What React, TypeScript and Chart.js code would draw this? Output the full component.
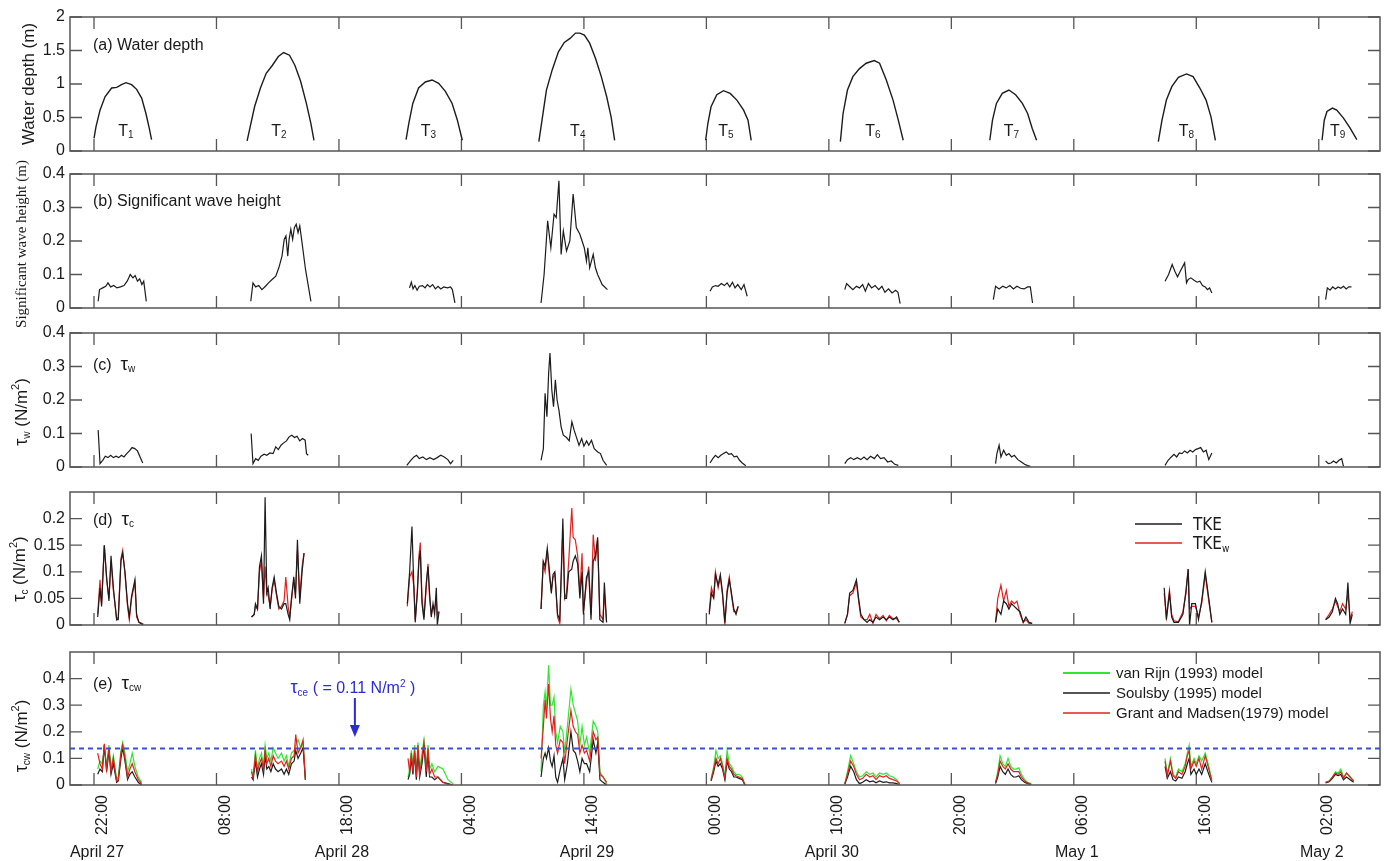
import React, { useEffect, useRef } from "react";
import { Chart, registerables } from "chart.js";
Chart.register(...registerables);

// ---------------- axis definitions ----------------
const X_MIN = 20.04; // hours since April 27 00:00
const X_MAX = 127.0;
const TIME_TICK_HOURS = [22, 32, 42, 52, 62, 72, 82, 92, 102, 112, 122];
const TIME_TICK_LABELS = ["22:00", "08:00", "18:00", "04:00", "14:00", "00:00", "10:00", "20:00", "06:00", "16:00", "02:00"];
const DATE_TICK_HOURS = [22, 42, 62, 82, 102, 122];
const DATE_TICK_LABELS = ["April 27", "April 28", "April 29", "April 30", "May 1", "May 2"];

const TIDE_NAMES = ["1", "2", "3", "4", "5", "6", "7", "8", "9"];
const TIDE_LABEL_HOURS = [24.6, 37.1, 49.3, 61.5, 73.6, 85.6, 96.9, 111.2, 123.55];
const TIDE_LABEL_DEPTH = 0.31;

const TAU_CE_LINE = 0.137;
const TAU_CE_NOTE_HOUR = 43.3;

// ---------------- (a) water depth ----------------
const depthHours = [
  [22.0, 22.16, 22.49, 22.9, 23.44, 23.85, 24.25, 24.61, 25.07, 25.48, 25.89, 26.24, 26.51, 26.7],
  [34.5, 34.75, 35.11, 35.59, 36.06, 36.57, 37.05, 37.48, 37.96, 38.4, 38.87, 39.34, 39.71, 39.96],
  [47.48, 47.7, 48.03, 48.5, 49.05, 49.6, 50.14, 50.69, 51.24, 51.67, 52.07],
  [58.32, 58.58, 58.94, 59.41, 59.92, 60.4, 60.87, 61.31, 61.67, 62.04, 62.47, 62.95, 63.42, 63.86, 64.22, 64.51],
  [71.94, 72.12, 72.38, 72.85, 73.4, 73.94, 74.49, 75.04, 75.4, 75.66],
  [82.94, 83.16, 83.52, 83.96, 84.5, 85.05, 85.71, 86.14, 86.69, 87.24, 87.67, 88.07],
  [95.14, 95.36, 95.68, 96.16, 96.7, 97.25, 97.8, 98.23, 98.6, 98.96],
  [108.9, 109.2, 109.56, 110.0, 110.54, 111.2, 111.74, 112.29, 112.8, 113.2, 113.56],
  [122.27, 122.45, 122.67, 123.11, 123.47, 124.02, 124.56, 125.11],
];
const depthValues = [
  [0.19, 0.36, 0.61, 0.81, 0.94, 0.95, 0.99, 1.02, 0.99, 0.92, 0.79, 0.56, 0.34, 0.17],
  [0.15, 0.36, 0.66, 0.94, 1.16, 1.28, 1.41, 1.47, 1.43, 1.28, 1.04, 0.71, 0.41, 0.16],
  [0.17, 0.41, 0.71, 0.94, 1.03, 1.06, 1.01, 0.89, 0.71, 0.46, 0.16],
  [0.14, 0.46, 0.91, 1.21, 1.48, 1.62, 1.68, 1.76, 1.76, 1.73, 1.61, 1.38, 1.11, 0.81, 0.51, 0.16],
  [0.16, 0.41, 0.66, 0.84, 0.9, 0.86, 0.76, 0.61, 0.46, 0.16],
  [0.14, 0.56, 0.91, 1.11, 1.23, 1.31, 1.35, 1.31, 1.06, 0.76, 0.46, 0.16],
  [0.16, 0.46, 0.71, 0.86, 0.91, 0.84, 0.71, 0.56, 0.34, 0.16],
  [0.14, 0.46, 0.76, 0.96, 1.1, 1.15, 1.11, 0.94, 0.76, 0.51, 0.16],
  [0.16, 0.46, 0.59, 0.64, 0.61, 0.49, 0.34, 0.17],
];

// ---------------- (b) significant wave height ----------------
const waveHours = [
  [22.34, 22.45, 22.71, 22.96, 23.14, 23.36, 23.62, 23.87, 24.16, 24.45, 24.71, 24.96, 25.18, 25.36, 25.55, 25.73, 25.91, 26.06, 26.27],
  [34.8, 34.98, 35.2, 35.45, 35.71, 36.0, 36.25, 36.54, 36.84, 37.09, 37.35, 37.53, 37.67, 37.82, 37.93, 38.07, 38.22, 38.36, 38.51, 38.66, 38.8, 38.95, 39.27, 39.71],
  [47.76, 47.91, 48.05, 48.2, 48.38, 48.56, 48.82, 49.03, 49.22, 49.43, 49.65, 49.87, 50.09, 50.31, 50.56, 50.85, 51.11, 51.26, 51.47],
  [58.5, 58.75, 59.04, 59.3, 59.56, 59.74, 59.96, 60.14, 60.32, 60.58, 60.85, 61.12, 61.38, 61.67, 62.03, 62.21, 62.32, 62.47, 62.76, 62.94, 63.12, 63.49, 63.92],
  [72.3, 72.49, 72.74, 72.96, 73.22, 73.47, 73.69, 73.91, 74.13, 74.34, 74.56, 74.85, 75.07, 75.33],
  [83.3, 83.45, 83.67, 83.96, 84.25, 84.5, 84.76, 84.98, 85.23, 85.49, 85.78, 86.07, 86.33, 86.58, 86.87, 87.16, 87.45, 87.64, 87.82],
  [95.43, 95.61, 95.9, 96.19, 96.48, 96.78, 97.07, 97.36, 97.65, 97.94, 98.23, 98.45, 98.63],
  [109.45, 109.74, 110.03, 110.25, 110.47, 110.69, 110.91, 111.05, 111.2, 111.34, 111.56, 111.82, 112.07, 112.29, 112.51, 112.73, 112.91, 113.09, 113.27],
  [122.56, 122.7, 122.92, 123.14, 123.36, 123.58, 123.8, 124.02, 124.24, 124.45, 124.67],
];
const waveHeights = [
  [0.02, 0.055, 0.06, 0.065, 0.075, 0.063, 0.067, 0.06, 0.063, 0.067, 0.08, 0.1, 0.09, 0.097, 0.08, 0.087, 0.07, 0.08, 0.02],
  [0.02, 0.075, 0.063, 0.067, 0.055, 0.065, 0.075, 0.085, 0.095, 0.12, 0.155, 0.205, 0.215, 0.155, 0.205, 0.235, 0.205, 0.24, 0.25, 0.225, 0.245, 0.205, 0.115, 0.02],
  [0.06, 0.077, 0.057, 0.067, 0.053, 0.065, 0.067, 0.06, 0.07, 0.063, 0.07, 0.057, 0.065, 0.057, 0.063, 0.06, 0.063, 0.055, 0.015],
  [0.015, 0.1, 0.26, 0.18, 0.28, 0.27, 0.38, 0.16, 0.23, 0.17, 0.2, 0.34, 0.24, 0.22, 0.18, 0.14, 0.18, 0.12, 0.16, 0.12, 0.1, 0.07, 0.055],
  [0.05, 0.063, 0.067, 0.065, 0.073, 0.067, 0.075, 0.063, 0.077, 0.06, 0.07, 0.055, 0.07, 0.035],
  [0.055, 0.073, 0.065, 0.055, 0.065, 0.06, 0.07, 0.05, 0.073, 0.06, 0.067, 0.055, 0.065, 0.047, 0.057, 0.045, 0.053, 0.047, 0.013],
  [0.025, 0.065, 0.057, 0.065, 0.06, 0.067, 0.057, 0.065, 0.059, 0.057, 0.063, 0.063, 0.015],
  [0.08, 0.1, 0.13, 0.11, 0.093, 0.11, 0.125, 0.135, 0.075, 0.085, 0.09, 0.083, 0.077, 0.08, 0.067, 0.063, 0.055, 0.06, 0.045],
  [0.025, 0.06, 0.053, 0.063, 0.057, 0.063, 0.059, 0.065, 0.057, 0.063, 0.063],
];

// ---------------- (c) wave shear stress ----------------
const tauWHours = [
  [22.34, 22.49, 22.71, 22.92, 23.14, 23.36, 23.58, 23.8, 24.02, 24.24, 24.45, 24.67, 24.89, 25.11, 25.33, 25.55, 25.76, 25.98],
  [34.83, 34.98, 35.2, 35.41, 35.63, 35.89, 36.11, 36.36, 36.62, 36.84, 37.05, 37.27, 37.49, 37.71, 37.93, 38.15, 38.37, 38.58, 38.8, 39.02, 39.24, 39.35, 39.49],
  [47.54, 47.83, 48.12, 48.34, 48.56, 48.85, 49.14, 49.43, 49.73, 50.02, 50.31, 50.6, 50.89, 51.11, 51.33],
  [58.5, 58.69, 58.83, 58.98, 59.12, 59.23, 59.38, 59.52, 59.67, 59.81, 59.96, 60.14, 60.32, 60.58, 60.8, 61.02, 61.2, 61.38, 61.6, 61.82, 62.0, 62.22, 62.4, 62.62, 62.84, 63.13, 63.35, 63.56, 63.86],
  [72.3, 72.52, 72.74, 72.96, 73.18, 73.4, 73.62, 73.83, 74.05, 74.27, 74.49, 74.71, 74.93, 75.22],
  [83.3, 83.52, 83.78, 84.03, 84.32, 84.61, 84.87, 85.12, 85.41, 85.71, 85.96, 86.22, 86.51, 86.8, 87.09, 87.38, 87.67],
  [95.61, 95.72, 95.9, 96.05, 96.27, 96.49, 96.7, 96.92, 97.14, 97.43, 97.72, 97.98, 98.23, 98.45],
  [109.45, 109.7, 109.96, 110.18, 110.4, 110.62, 110.83, 111.05, 111.27, 111.49, 111.71, 111.93, 112.15, 112.36, 112.58, 112.8, 113.02, 113.27],
  [122.56, 122.78, 123.0, 123.21, 123.43, 123.65, 123.87, 124.02],
];
const tauWValues = [
  [0.11, 0.01, 0.02, 0.032, 0.028, 0.035, 0.028, 0.032, 0.028, 0.035, 0.03, 0.04, 0.048, 0.058, 0.055, 0.048, 0.03, 0.012],
  [0.1, 0.01, 0.025, 0.02, 0.032, 0.038, 0.035, 0.042, 0.04, 0.06, 0.052, 0.065, 0.072, 0.078, 0.09, 0.095, 0.088, 0.092, 0.078, 0.085, 0.08, 0.04, 0.035],
  [0.005, 0.018, 0.03, 0.035, 0.025, 0.03, 0.022, 0.028, 0.022, 0.028, 0.035, 0.03, 0.022, 0.01, 0.02],
  [0.02, 0.055, 0.22, 0.15, 0.28, 0.34, 0.23, 0.18, 0.26, 0.2, 0.17, 0.12, 0.095, 0.088, 0.078, 0.135, 0.11, 0.09, 0.065, 0.085, 0.062, 0.078, 0.065, 0.08, 0.055, 0.045, 0.04, 0.02, 0.005],
  [0.012, 0.025, 0.035, 0.028, 0.035, 0.04, 0.045, 0.038, 0.04, 0.03, 0.032, 0.02, 0.012, 0.004],
  [0.01, 0.022, 0.028, 0.022, 0.028, 0.022, 0.03, 0.022, 0.032, 0.025, 0.037, 0.025, 0.028, 0.015, 0.018, 0.008, 0.005],
  [0.01, 0.04, 0.065, 0.03, 0.05, 0.035, 0.04, 0.03, 0.035, 0.022, 0.015, 0.008, 0.004, 0.002],
  [0.005, 0.02, 0.03, 0.038, 0.03, 0.042, 0.04, 0.048, 0.042, 0.05, 0.045, 0.052, 0.055, 0.058, 0.045, 0.05, 0.022, 0.042],
  [0.018, 0.01, 0.012, 0.018, 0.012, 0.02, 0.025, 0.002],
];

// ---------------- (d) current shear stress ----------------
const tauCHours = [
  [22.3, 22.49, 22.62, 22.84, 23.03, 23.22, 23.39, 23.58, 23.85, 23.98, 24.2, 24.34, 24.53, 24.74, 24.88, 25.07, 25.34, 25.48, 25.67, 26.02],
  [34.86, 35.08, 35.18, 35.35, 35.51, 35.67, 35.84, 35.97, 36.11, 36.22, 36.38, 36.54, 36.71, 36.9, 37.09, 37.31, 37.52, 37.66, 37.85, 37.98, 38.12, 38.31, 38.45, 38.61, 38.8, 38.99, 39.15],
  [47.58, 47.77, 47.96, 48.13, 48.23, 48.4, 48.53, 48.64, 48.78, 48.94, 49.13, 49.27, 49.4, 49.54, 49.68, 49.81, 49.95, 50.03, 50.17],
  [58.5, 58.68, 58.83, 59.01, 59.19, 59.34, 59.48, 59.63, 59.85, 60.03, 60.28, 60.43, 60.58, 60.76, 61.01, 61.12, 61.3, 61.49, 61.67, 61.85, 61.96, 62.21, 62.39, 62.58, 62.76, 62.94, 63.12, 63.3, 63.56, 63.67, 63.85],
  [72.23, 72.41, 72.6, 72.74, 72.96, 73.14, 73.32, 73.51, 73.69, 73.87, 74.05, 74.24, 74.42, 74.6],
  [83.3, 83.52, 83.7, 83.96, 84.25, 84.43, 84.61, 84.87, 85.12, 85.34, 85.6, 85.85, 86.14, 86.43, 86.69, 86.94, 87.24, 87.53, 87.75],
  [95.61, 95.79, 96.05, 96.27, 96.49, 96.7, 96.92, 97.14, 97.36, 97.61, 97.87, 98.09, 98.34, 98.6],
  [109.38, 109.56, 109.81, 109.99, 110.18, 110.54, 110.91, 111.16, 111.34, 111.45, 111.63, 111.93, 112.18, 112.44, 112.73, 113.02, 113.27],
  [122.56, 122.85, 123.11, 123.36, 123.54, 123.72, 123.94, 124.2, 124.38, 124.56, 124.74],
];
const tauCTke = [
  [0.015, 0.07, 0.035, 0.15, 0.09, 0.045, 0.13, 0.07, 0.01, 0.01, 0.12, 0.135, 0.1, 0.04, 0.015, 0.055, 0.085, 0.02, 0.005, 0.0],
  [0.015, 0.02, 0.04, 0.03, 0.11, 0.13, 0.04, 0.24, 0.06, 0.07, 0.03, 0.07, 0.09, 0.06, 0.035, 0.03, 0.04, 0.04, 0.02, 0.01, 0.05, 0.09, 0.05, 0.16, 0.04, 0.1, 0.135],
  [0.04, 0.1, 0.185, 0.06, 0.005, 0.06, 0.12, 0.14, 0.04, 0.01, 0.08, 0.11, 0.06, 0.015, 0.04, 0.02, 0.07, 0.0, 0.025],
  [0.03, 0.12, 0.11, 0.145, 0.1, 0.06, 0.095, 0.1, 0.02, 0.01, 0.2, 0.05, 0.05, 0.1, 0.105, 0.12, 0.13, 0.115, 0.05, 0.1, 0.02, 0.09, 0.1, 0.01, 0.12, 0.13, 0.165, 0.01, 0.005, 0.08, 0.005],
  [0.02, 0.06, 0.05, 0.095, 0.075, 0.095, 0.06, 0.005, 0.06, 0.085, 0.06, 0.03, 0.02, 0.035],
  [0.003, 0.02, 0.06, 0.065, 0.085, 0.05, 0.02, 0.01, 0.005, 0.01, 0.005, 0.015, 0.01, 0.015, 0.01, 0.015, 0.01, 0.015, 0.005],
  [0.005, 0.03, 0.02, 0.045, 0.04, 0.03, 0.04, 0.035, 0.03, 0.025, 0.005, 0.015, 0.005, 0.003],
  [0.07, 0.01, 0.06, 0.015, 0.005, 0.005, 0.02, 0.065, 0.105, 0.0, 0.04, 0.04, 0.01, 0.045, 0.1, 0.05, 0.005],
  [0.01, 0.015, 0.025, 0.05, 0.04, 0.02, 0.03, 0.02, 0.08, 0.003, 0.02],
];
const tauCTkeW = [
  [0.02, 0.085, 0.04, 0.15, 0.085, 0.05, 0.12, 0.065, 0.01, 0.015, 0.125, 0.14, 0.095, 0.035, 0.01, 0.05, 0.08, 0.015, 0.005, 0.002],
  [0.015, 0.02, 0.035, 0.03, 0.1, 0.12, 0.05, 0.11, 0.06, 0.055, 0.035, 0.065, 0.085, 0.055, 0.03, 0.035, 0.045, 0.09, 0.035, 0.015, 0.045, 0.085, 0.06, 0.14, 0.05, 0.11, 0.135],
  [0.035, 0.09, 0.1, 0.07, 0.01, 0.065, 0.13, 0.155, 0.05, 0.015, 0.07, 0.115, 0.05, 0.02, 0.035, 0.03, 0.05, 0.02, 0.025],
  [0.03, 0.115, 0.1, 0.14, 0.09, 0.065, 0.09, 0.095, 0.015, 0.003, 0.18, 0.05, 0.06, 0.12, 0.22, 0.165, 0.16, 0.13, 0.06, 0.135, 0.025, 0.08, 0.11, 0.02, 0.17, 0.12, 0.16, 0.02, 0.01, 0.06, 0.005],
  [0.025, 0.07, 0.055, 0.1, 0.07, 0.09, 0.055, 0.0, 0.065, 0.09, 0.055, 0.025, 0.025, 0.035],
  [0.003, 0.02, 0.055, 0.06, 0.08, 0.045, 0.015, 0.01, 0.01, 0.02, 0.003, 0.02, 0.012, 0.018, 0.008, 0.018, 0.012, 0.012, 0.005],
  [0.005, 0.05, 0.075, 0.045, 0.065, 0.035, 0.045, 0.04, 0.045, 0.02, 0.005, 0.01, 0.003, 0.003],
  [0.06, 0.015, 0.065, 0.02, 0.008, 0.006, 0.025, 0.06, 0.105, 0.03, 0.035, 0.035, 0.015, 0.04, 0.095, 0.045, 0.005],
  [0.01, 0.02, 0.03, 0.045, 0.035, 0.025, 0.04, 0.03, 0.06, 0.01, 0.025],
];

// ---------------- (e) combined wave-current shear stress ----------------
const tauCWHours = [
  [22.3, 22.49, 22.68, 22.84, 23.03, 23.22, 23.39, 23.58, 23.85, 23.98, 24.2, 24.34, 24.53, 24.74, 24.93, 25.12, 25.34, 25.61, 25.89],
  [34.86, 34.99, 35.18, 35.35, 35.51, 35.67, 35.84, 35.97, 36.11, 36.27, 36.44, 36.63, 36.82, 37.03, 37.31, 37.52, 37.71, 37.9, 38.12, 38.34, 38.47, 38.66, 38.88, 39.07, 39.26],
  [47.64, 47.77, 47.91, 48.04, 48.18, 48.32, 48.45, 48.59, 48.78, 48.94, 49.13, 49.27, 49.4, 49.59, 49.81, 50.08, 50.49, 50.9, 51.31],
  [58.5, 58.69, 58.83, 58.94, 59.12, 59.27, 59.41, 59.56, 59.7, 59.85, 60.07, 60.29, 60.43, 60.65, 60.94, 61.13, 61.31, 61.49, 61.67, 61.85, 62.04, 62.22, 62.47, 62.76, 62.98, 63.13, 63.31, 63.56, 63.86],
  [72.38, 72.6, 72.78, 72.96, 73.14, 73.32, 73.51, 73.69, 73.87, 74.05, 74.24, 74.42, 74.67, 74.93, 75.15],
  [83.3, 83.52, 83.78, 84.03, 84.25, 84.5, 84.76, 85.05, 85.34, 85.6, 85.85, 86.14, 86.43, 86.69, 86.94, 87.24, 87.53, 87.78],
  [95.61, 95.79, 95.98, 96.2, 96.41, 96.63, 96.85, 97.07, 97.29, 97.51, 97.72, 97.98, 98.23, 98.52],
  [109.45, 109.63, 109.89, 110.1, 110.32, 110.54, 110.83, 111.09, 111.27, 111.42, 111.56, 111.82, 112.0, 112.22, 112.44, 112.73, 113.02, 113.27],
  [122.56, 122.85, 123.11, 123.36, 123.58, 123.8, 124.02, 124.27, 124.56, 124.85],
];
const tauCWVanRijn = [
  [0.06, 0.09, 0.08, 0.14, 0.07, 0.15, 0.06, 0.11, 0.02, 0.03, 0.13, 0.16, 0.12, 0.05, 0.08, 0.12, 0.07, 0.03, 0.01],
  [0.06, 0.03, 0.13, 0.06, 0.1, 0.12, 0.07, 0.15, 0.1, 0.12, 0.09, 0.14, 0.12, 0.1, 0.12, 0.09, 0.11, 0.07, 0.12, 0.13, 0.15, 0.17, 0.14, 0.16, 0.02],
  [0.03, 0.06, 0.13, 0.07, 0.15, 0.04, 0.16, 0.06, 0.12, 0.17, 0.07, 0.15, 0.06, 0.08, 0.05, 0.07, 0.06, 0.02, 0.005],
  [0.05, 0.3, 0.35, 0.29, 0.45, 0.3, 0.3, 0.33, 0.2, 0.16, 0.22, 0.2, 0.12, 0.22, 0.36, 0.3, 0.27, 0.24, 0.15, 0.22, 0.15, 0.18, 0.12, 0.24, 0.22, 0.2, 0.05, 0.03, 0.005],
  [0.02, 0.07, 0.13, 0.1, 0.11, 0.08, 0.03, 0.13, 0.08, 0.07, 0.05, 0.04, 0.04, 0.03, 0.0],
  [0.005, 0.05, 0.11, 0.08, 0.05, 0.03, 0.035, 0.05, 0.04, 0.045, 0.03, 0.045, 0.04, 0.045, 0.035, 0.03, 0.02, 0.005],
  [0.01, 0.05, 0.11, 0.08, 0.07, 0.1, 0.07, 0.06, 0.06, 0.065, 0.04, 0.02, 0.01, 0.005],
  [0.1, 0.04, 0.1, 0.04, 0.03, 0.06, 0.05, 0.08, 0.12, 0.15, 0.07, 0.1, 0.08, 0.11, 0.09, 0.12, 0.07, 0.02],
  [0.01, 0.015, 0.03, 0.05, 0.045, 0.06, 0.03, 0.045, 0.03, 0.015],
];
const tauCWSoulsby = [
  [0.04, 0.06, 0.05, 0.15, 0.05, 0.13, 0.04, 0.08, 0.01, 0.015, 0.1, 0.14, 0.09, 0.02, 0.04, 0.05, 0.03, 0.01, 0.0],
  [0.03, 0.02, 0.09, 0.03, 0.06, 0.08, 0.04, 0.11, 0.06, 0.07, 0.05, 0.08, 0.06, 0.05, 0.06, 0.04, 0.06, 0.04, 0.08, 0.09, 0.13, 0.1, 0.12, 0.14, 0.02],
  [0.02, 0.04, 0.1, 0.04, 0.12, 0.02, 0.13, 0.03, 0.08, 0.15, 0.03, 0.12, 0.03, 0.03, 0.02, 0.03, 0.01, 0.005, 0.0],
  [0.03, 0.1, 0.12, 0.1, 0.14, 0.09, 0.07, 0.11, 0.03, 0.01, 0.06, 0.1, 0.02, 0.08, 0.2, 0.13, 0.12, 0.09, 0.05, 0.1, 0.08, 0.08, 0.05, 0.17, 0.12, 0.16, 0.02, 0.01, 0.0],
  [0.015, 0.05, 0.09, 0.07, 0.08, 0.06, 0.02, 0.09, 0.06, 0.05, 0.03, 0.03, 0.025, 0.02, 0.0],
  [0.003, 0.03, 0.07, 0.05, 0.02, 0.005, 0.01, 0.02, 0.012, 0.015, 0.008, 0.015, 0.01, 0.012, 0.008, 0.008, 0.005, 0.002],
  [0.005, 0.03, 0.07, 0.05, 0.04, 0.06, 0.04, 0.03, 0.03, 0.035, 0.02, 0.01, 0.005, 0.002],
  [0.07, 0.025, 0.05, 0.02, 0.015, 0.03, 0.025, 0.05, 0.08, 0.1, 0.04, 0.06, 0.04, 0.06, 0.04, 0.08, 0.04, 0.01],
  [0.008, 0.012, 0.025, 0.04, 0.035, 0.04, 0.02, 0.03, 0.02, 0.01],
];
const tauCWGrant = [
  [0.12, 0.08, 0.06, 0.155, 0.06, 0.14, 0.05, 0.1, 0.015, 0.02, 0.12, 0.15, 0.1, 0.03, 0.06, 0.08, 0.05, 0.02, 0.005],
  [0.05, 0.025, 0.11, 0.05, 0.08, 0.1, 0.06, 0.13, 0.08, 0.1, 0.07, 0.11, 0.09, 0.08, 0.09, 0.07, 0.09, 0.06, 0.1, 0.11, 0.19, 0.12, 0.14, 0.17, 0.02],
  [0.1, 0.05, 0.12, 0.05, 0.13, 0.03, 0.15, 0.04, 0.1, 0.16, 0.05, 0.14, 0.04, 0.06, 0.03, 0.03, 0.01, 0.003, 0.0],
  [0.1, 0.22, 0.32, 0.25, 0.38, 0.25, 0.2, 0.26, 0.15, 0.12, 0.17, 0.16, 0.08, 0.17, 0.28, 0.22, 0.2, 0.19, 0.12, 0.15, 0.12, 0.13, 0.09, 0.2, 0.17, 0.18, 0.04, 0.03, 0.01],
  [0.02, 0.06, 0.1, 0.08, 0.1, 0.07, 0.025, 0.1, 0.07, 0.06, 0.04, 0.035, 0.03, 0.025, 0.0],
  [0.005, 0.04, 0.09, 0.07, 0.04, 0.02, 0.025, 0.04, 0.03, 0.035, 0.02, 0.035, 0.03, 0.035, 0.025, 0.02, 0.015, 0.005],
  [0.01, 0.04, 0.09, 0.07, 0.06, 0.08, 0.06, 0.05, 0.05, 0.05, 0.03, 0.015, 0.008, 0.003],
  [0.09, 0.035, 0.09, 0.035, 0.025, 0.05, 0.04, 0.07, 0.11, 0.13, 0.06, 0.09, 0.07, 0.1, 0.06, 0.11, 0.06, 0.015],
  [0.01, 0.015, 0.03, 0.045, 0.04, 0.05, 0.025, 0.045, 0.03, 0.015],
];

// ---------------- styling ----------------
const SANS = "'Liberation Sans', Arial, Helvetica, sans-serif";
const SERIF = "'Liberation Serif', 'Times New Roman', serif";
const NARROW = "'Liberation Sans Narrow', 'DejaVu Sans Condensed', 'Liberation Sans', sans-serif";
const TEXT = "#1a1a1a";
const FRAME = "#555555";
const BLACK = "#1c1c1c";
const RED = "#e0221f";
const GREEN = "#2ee82e";
const BLUE = "#2a2ad8";
const TICK_LEN = 12;
const PAD = 20;

type Run = { t: string; size: number; dy?: number; family?: string };

function runsWidth(ctx: CanvasRenderingContext2D, runs: Run[], family: string) {
  let w = 0;
  for (const r of runs) {
    ctx.font = `${r.size}px ${r.family ?? family}`;
    w += ctx.measureText(r.t).width;
  }
  return w;
}
function drawRuns(ctx: CanvasRenderingContext2D, runs: Run[], x: number, y: number, align: "left" | "center", family: string, color: string) {
  const w = runsWidth(ctx, runs, family);
  let cx = align === "center" ? x - w / 2 : x;
  ctx.fillStyle = color;
  ctx.textAlign = "left";
  ctx.textBaseline = "alphabetic";
  for (const r of runs) {
    ctx.font = `${r.size}px ${r.family ?? family}`;
    ctx.fillText(r.t, cx, y + (r.dy ?? 0));
    cx += ctx.measureText(r.t).width;
  }
}
function drawRotated(ctx: CanvasRenderingContext2D, runs: Run[], cx: number, cy: number, family: string, base: number) {
  ctx.save();
  ctx.translate(cx, cy);
  ctx.rotate(-Math.PI / 2);
  drawRuns(ctx, runs, 0, base * 0.36, "center", family, TEXT);
  ctx.restore();
}

function toPoints(hours: number[][], values: number[][]) {
  const pts: { x: number; y: number | null }[] = [];
  hours.forEach((hs, i) => {
    if (i > 0) {
      const prev = hours[i - 1];
      pts.push({ x: (prev[prev.length - 1] + hs[0]) / 2, y: null });
    }
    hs.forEach((h, j) => pts.push({ x: h, y: values[i][j] }));
  });
  return pts;
}

function line(data: any[], color: string, width: number, extra: any = {}) {
  return { data, borderColor: color, borderWidth: width, pointRadius: 0, tension: 0, fill: false, spanGaps: false, ...extra };
}

type Spec = {
  key: string;
  plotTop: number;
  plotH: number;
  yMax: number;
  yTicks: number[];
  datasets: any[];
  bottomAxis?: boolean;
  decorate: (ctx: CanvasRenderingContext2D, chart: any) => void;
};

const AXIS_H_TIME = 58;
const AXIS_H_DATE = 18;

function canvasTop(s: Spec) {
  return s.plotTop - PAD;
}
function canvasH(s: Spec) {
  return PAD + s.plotH + (s.bottomAxis ? AXIS_H_TIME + AXIS_H_DATE : PAD);
}

function buildConfig(s: Spec): any {
  const frame = {
    id: "frame_" + s.key,
    beforeDatasetsDraw(chart: any) {
      const { ctx, chartArea } = chart;
      const { left, right, top, bottom } = chartArea;
      const xs = chart.scales.x;
      const ys = chart.scales.y;
      ctx.save();
      ctx.strokeStyle = FRAME;
      ctx.lineWidth = 1.3;
      ctx.beginPath();
      for (const h of TIME_TICK_HOURS) {
        const px = xs.getPixelForValue(h);
        ctx.moveTo(px, top);
        ctx.lineTo(px, top + TICK_LEN);
        ctx.moveTo(px, bottom);
        ctx.lineTo(px, bottom - TICK_LEN);
      }
      for (const v of s.yTicks) {
        const py = ys.getPixelForValue(v);
        ctx.moveTo(left, py);
        ctx.lineTo(left + TICK_LEN, py);
        ctx.moveTo(right, py);
        ctx.lineTo(right - TICK_LEN, py);
      }
      ctx.stroke();
      ctx.restore();
    },
    afterDatasetsDraw(chart: any) {
      const { ctx, chartArea } = chart;
      const { left, right, top, bottom } = chartArea;
      ctx.save();
      ctx.strokeStyle = FRAME;
      ctx.lineWidth = 1.5;
      ctx.strokeRect(left, top, right - left, bottom - top);
      s.decorate(ctx, chart);
      ctx.restore();
    },
  };

  const scales: any = {
    x: {
      type: "linear",
      min: X_MIN,
      max: X_MAX,
      display: !!s.bottomAxis,
      weight: 0,
      afterBuildTicks: (scale: any) => {
        scale.ticks = TIME_TICK_HOURS.map((v) => ({ value: v }));
      },
      afterFit: (scale: any) => {
        if (s.bottomAxis) scale.height = AXIS_H_TIME;
      },
      grid: { display: false, drawTicks: false },
      border: { display: false },
      ticks: {
        autoSkip: false,
        minRotation: 90,
        maxRotation: 90,
        padding: 10,
        labelOffset: 9,
        color: TEXT,
        font: { family: SANS, size: 16 },
        callback: (_v: any, i: number) => TIME_TICK_LABELS[i],
      },
    },
    y: {
      type: "linear",
      min: 0,
      max: s.yMax,
      afterBuildTicks: (scale: any) => {
        scale.ticks = s.yTicks.map((v) => ({ value: v }));
      },
      afterFit: (scale: any) => {
        scale.width = 70;
      },
      grid: { display: false, drawTicks: false },
      border: { display: false },
      ticks: {
        autoSkip: false,
        padding: 5,
        color: TEXT,
        font: { family: SANS, size: 16 },
        callback: (v: any) => String(v),
      },
    },
  };
  if (s.bottomAxis) {
    scales.xDate = {
      type: "linear",
      position: "bottom",
      min: X_MIN,
      max: X_MAX,
      weight: 1,
      afterBuildTicks: (scale: any) => {
        scale.ticks = DATE_TICK_HOURS.map((v) => ({ value: v }));
      },
      afterFit: (scale: any) => {
        scale.height = AXIS_H_DATE;
      },
      grid: { display: false, drawTicks: false },
      border: { display: false },
      ticks: {
        autoSkip: false,
        maxRotation: 0,
        minRotation: 0,
        padding: 0,
        labelOffset: 3,
        color: TEXT,
        font: { family: SANS, size: 16 },
        callback: (_v: any, i: number) => DATE_TICK_LABELS[i],
      },
    };
  }

  return {
    type: "line",
    data: { datasets: s.datasets },
    options: {
      animation: false,
      responsive: false,
      devicePixelRatio: 1,
      events: [],
      layout: { padding: { left: 0, right: 4, top: PAD, bottom: s.bottomAxis ? 0 : PAD } },
      plugins: { legend: { display: false }, tooltip: { enabled: false } },
      scales,
    },
    plugins: [frame],
  };
}

function titleAt(ctx: CanvasRenderingContext2D, chart: any, runs: Run[], dyBase: number) {
  drawRuns(ctx, runs, 93, chart.chartArea.top + dyBase, "left", SANS, TEXT);
}

function tauTitle(sub: string): Run[] {
  return [
    { t: "τ", size: 18 },
    { t: sub, size: 10, dy: 3 },
    { t: " (N/m", size: 17 },
    { t: "2", size: 11, dy: -8 },
    { t: ")", size: 17 },
  ];
}

const specs: Spec[] = [
  {
    key: "a",
    plotTop: 17,
    plotH: 134,
    yMax: 2,
    yTicks: [0, 0.5, 1, 1.5, 2],
    datasets: [line(toPoints(depthHours, depthValues), BLACK, 1.4)],
    decorate: (ctx, chart) => {
      const top = chart.chartArea.top;
      titleAt(ctx, chart, [{ t: "(a) Water depth", size: 16 }], 33);
      const xs = chart.scales.x;
      const ys = chart.scales.y;
      TIDE_NAMES.forEach((n, i) => {
        const px = xs.getPixelForValue(TIDE_LABEL_HOURS[i]);
        const py = ys.getPixelForValue(TIDE_LABEL_DEPTH);
        drawRuns(ctx, [{ t: "T", size: 16 }, { t: n, size: 10, dy: 2 }], px, py + 6, "center", SANS, TEXT);
      });
      drawRotated(ctx, [{ t: "Water depth (m)", size: 17 }], 28, top + 67, SANS, 17);
    },
  },
  {
    key: "b",
    plotTop: 174,
    plotH: 134,
    yMax: 0.4,
    yTicks: [0, 0.1, 0.2, 0.3, 0.4],
    datasets: [line(toPoints(waveHours, waveHeights), BLACK, 1.2)],
    decorate: (ctx, chart) => {
      const top = chart.chartArea.top;
      titleAt(ctx, chart, [{ t: "(b) Significant wave height", size: 16 }], 32);
      drawRotated(ctx, [{ t: "Significant wave height (m)", size: 15 }], 21, top + 70, SERIF, 15);
    },
  },
  {
    key: "c",
    plotTop: 333,
    plotH: 134,
    yMax: 0.4,
    yTicks: [0, 0.1, 0.2, 0.3, 0.4],
    datasets: [line(toPoints(tauWHours, tauWValues), BLACK, 1.2)],
    decorate: (ctx, chart) => {
      const top = chart.chartArea.top;
      titleAt(ctx, chart, [{ t: "(c)  ", size: 16 }, { t: "τ", size: 19 }, { t: "w", size: 10, dy: 2 }], 37);
      drawRotated(ctx, tauTitle("w"), 21, top + 79, SANS, 17);
    },
  },
  {
    key: "d",
    plotTop: 492,
    plotH: 133,
    yMax: 0.25,
    yTicks: [0, 0.05, 0.1, 0.15, 0.2],
    datasets: [
      line(toPoints(tauCHours, tauCTke), BLACK, 1.2),
      line(toPoints(tauCHours, tauCTkeW), RED, 1.2),
    ],
    decorate: (ctx, chart) => {
      const top = chart.chartArea.top;
      titleAt(ctx, chart, [{ t: "(d)  ", size: 16 }, { t: "τ", size: 19 }, { t: "c", size: 10, dy: 2 }], 33);
      drawRotated(ctx, tauTitle("c"), 19, top + 77, SANS, 17);
      // legend
      const items: [Run[], string][] = [
        [[{ t: "TKE", size: 17, family: NARROW }], BLACK],
        [[{ t: "TKE", size: 17, family: NARROW }, { t: "w", size: 10, dy: 3, family: NARROW }], RED],
      ];
      items.forEach(([runs, col], i) => {
        const y = top + 32 + i * 19;
        ctx.strokeStyle = col;
        ctx.lineWidth = 1.3;
        ctx.beginPath();
        ctx.moveTo(1135, y);
        ctx.lineTo(1182, y);
        ctx.stroke();
        drawRuns(ctx, runs, 1193, y + 6, "left", NARROW, TEXT);
      });
    },
  },
  {
    key: "e",
    plotTop: 652,
    plotH: 133,
    yMax: 0.5,
    yTicks: [0, 0.1, 0.2, 0.3, 0.4],
    bottomAxis: true,
    datasets: [
      line(
        [
          { x: X_MIN, y: TAU_CE_LINE },
          { x: X_MAX, y: TAU_CE_LINE },
        ],
        "#3a4fd6",
        2,
        { borderDash: [5, 4] }
      ),
      line(toPoints(tauCWHours, tauCWGrant), RED, 1.2),
      line(toPoints(tauCWHours, tauCWSoulsby), BLACK, 1.2),
      line(toPoints(tauCWHours, tauCWVanRijn), GREEN, 1.2),
    ],
    decorate: (ctx, chart) => {
      const top = chart.chartArea.top;
      titleAt(ctx, chart, [{ t: "(e)  ", size: 16 }, { t: "τ", size: 19 }, { t: "cw", size: 10, dy: 2 }], 37);
      drawRotated(ctx, tauTitle("cw"), 21, top + 84, SANS, 17);
      // threshold annotation
      const xs = chart.scales.x;
      const ys = chart.scales.y;
      const ax = xs.getPixelForValue(TAU_CE_NOTE_HOUR);
      const ty = ys.getPixelForValue(0.368);
      drawRuns(
        ctx,
        [
          { t: "τ", size: 18 },
          { t: "ce", size: 10, dy: 3 },
          { t: " ( = 0.11 N/m", size: 16 },
          { t: "2", size: 10, dy: -6 },
          { t: " )", size: 16 },
        ],
        ax - 2,
        ty + 6,
        "center",
        SANS,
        BLUE
      );
      const y0 = ys.getPixelForValue(0.327);
      const y1 = ys.getPixelForValue(0.18);
      ctx.strokeStyle = BLUE;
      ctx.fillStyle = BLUE;
      ctx.lineWidth = 2;
      ctx.beginPath();
      ctx.moveTo(ax, y0);
      ctx.lineTo(ax, y1 - 10);
      ctx.stroke();
      ctx.beginPath();
      ctx.moveTo(ax - 5, y1 - 12);
      ctx.lineTo(ax + 5, y1 - 12);
      ctx.lineTo(ax, y1);
      ctx.closePath();
      ctx.fill();
      // legend
      const items: [string, string][] = [
        ["van Rijn (1993) model", GREEN],
        ["Soulsby (1995) model", BLACK],
        ["Grant and Madsen(1979) model", RED],
      ];
      items.forEach(([label, col], i) => {
        const y = top + 21 + i * 20;
        ctx.strokeStyle = col;
        ctx.lineWidth = col === GREEN ? 2 : 1.3;
        ctx.beginPath();
        ctx.moveTo(1063, y);
        ctx.lineTo(1110, y);
        ctx.stroke();
        drawRuns(ctx, [{ t: label, size: 15 }], 1116, y + 5, "left", SANS, TEXT);
      });
    },
  },
];

function Panel({ spec }: { spec: Spec }) {
  const ref = useRef<HTMLCanvasElement | null>(null);
  useEffect(() => {
    if (!ref.current) return;
    const chart = new Chart(ref.current, buildConfig(spec));
    return () => chart.destroy();
  }, [spec]);
  const h = canvasH(spec);
  return (
    <canvas
      ref={ref}
      width={1384}
      height={h}
      style={{ position: "absolute", left: 0, top: canvasTop(spec), width: 1384, height: h }}
    />
  );
}

export default function App() {
  return (
    <div style={{ position: "absolute", left: 0, top: 0, width: 1384, height: 861, background: "#ffffff", overflow: "hidden" }}>
      {specs.map((s) => (
        <Panel key={s.key} spec={s} />
      ))}
    </div>
  );
}
